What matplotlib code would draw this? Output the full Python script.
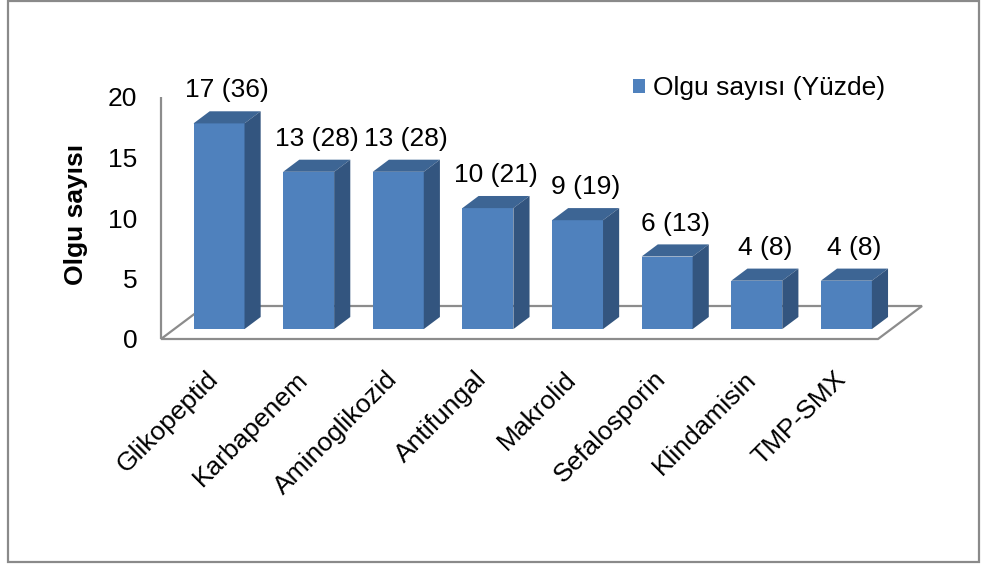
import matplotlib
matplotlib.use("Agg")
import matplotlib.pyplot as plt
from matplotlib.patches import Polygon, Rectangle, Patch

plt.rcParams["font.family"] = ["Liberation Sans", "DejaVu Sans"]

# ── Data ──────────────────────────────────────────────────────────
categories = ["Glikopeptid", "Karbapenem", "Aminoglikozid", "Antifungal",
              "Makrolid", "Sefalosporin", "Klindamisin", "TMP-SMX"]
counts = [17, 13, 13, 10, 9, 6, 4, 4]
percents = [36, 28, 28, 21, 19, 13, 8, 8]
yticks = [0, 5, 10, 15, 20]

# ── Style ─────────────────────────────────────────────────────────
FRONT = "#4F81BD"
TOP = "#3D6594"
SIDE = "#33557F"
GRID = "#8C8C8C"
FS = 19

W, H = 983, 567
fig = plt.figure(figsize=(W / 100, H / 100), dpi=100)

# axes = front edge of the floor, value axis at the left
ax = fig.add_axes([161 / W, 1 - 339 / H, 717 / W, 242 / H])
ax.set_xlim(-0.5, len(categories) - 0.5)
ax.set_ylim(0, 20)
for s in ax.spines.values():
    s.set_visible(False)

# depth of the floor in data units, and where the bars sit in it
DX, DY = 0.491, 2.727
F0, F1 = 0.30, 0.667
BW = 0.569

n = len(categories)
floor = Polygon([(-0.5, 0), (n - 0.5, 0), (n - 0.5 + DX, DY), (-0.5 + DX, DY)],
                closed=True, facecolor="white", edgecolor=GRID, lw=1.6,
                zorder=1, clip_on=False)
ax.add_patch(floor)
ax.plot([-0.5, -0.5], [0, 20], color=GRID, lw=1.6, zorder=1, clip_on=False,
        solid_capstyle="butt")

x = list(range(n))
x0 = [i + F0 * DX for i in x]
ax.bar(x0, counts, width=BW, bottom=F0 * DY, color=FRONT, zorder=3,
       clip_on=False)

ddx, ddy = (F1 - F0) * DX, (F1 - F0) * DY
for xc, v in zip(x0, counts):
    l, r = xc - BW / 2, xc + BW / 2
    b, t = F0 * DY, v + F0 * DY
    top = Polygon([(l, t), (r, t), (r + ddx, t + ddy), (l + ddx, t + ddy)],
                  closed=True, facecolor=TOP, edgecolor="none", zorder=3,
                  clip_on=False)
    side = Polygon([(r, b), (r + ddx, b + ddy), (r + ddx, t + ddy), (r, t)],
                   closed=True, facecolor=SIDE, edgecolor="none", zorder=3,
                   clip_on=False)
    ax.add_patch(top)
    ax.add_patch(side)

# value labels above the back edge of each top face
for xc, v, p in zip(x0, counts, percents):
    ax.annotate(f"{v} ({p})", (xc + ddx / 2, v + F1 * DY),
                xytext=(0, 15), textcoords="offset points",
                ha="center", va="center", fontsize=FS, zorder=5,
                annotation_clip=False)

ax.set_yticks(yticks)
ax.set_yticklabels([str(t) for t in yticks], fontsize=FS)
ax.tick_params(axis="y", length=0, pad=17)
ax.set_xticks(x)
ax.set_xticklabels(categories, fontsize=FS, rotation=45, ha="right",
                   va="top", rotation_mode="anchor")
ax.tick_params(axis="x", length=0, pad=20)

fig.text(76 / W, 1 - 214 / H, "Olgu sayısı", rotation=90, fontsize=FS,
         fontweight="bold", ha="center", va="center")

handle = Patch(facecolor=FRONT, edgecolor="none")
fig.legend([handle], ["Olgu sayısı (Yüzde)"], loc="center left",
           bbox_to_anchor=(633 / W, 1 - 88 / H), frameon=False,
           fontsize=FS, handlelength=0.45, handleheight=0.45,
           handletextpad=0.3, borderpad=0, borderaxespad=0)

fig.patches.append(Rectangle((8 / W, 1 - 562 / H), 971 / W, 561 / H,
                             transform=fig.transFigure, fill=False,
                             edgecolor="#8A8A8A", lw=1.6))

fig.savefig("out.png", dpi=100)
